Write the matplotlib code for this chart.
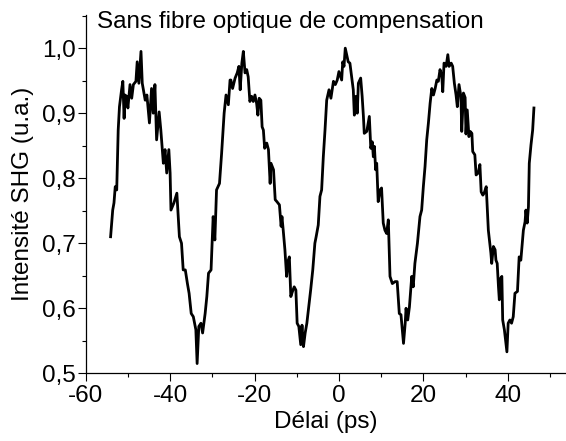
import matplotlib
matplotlib.use("Agg")
import matplotlib.pyplot as plt
from matplotlib.ticker import MultipleLocator, FuncFormatter

plt.rcParams['font.family'] = ['Liberation Sans', 'DejaVu Sans']

delay_ps = [
    -54.1, -53.6, -53.3, -53.0, -52.65, -52.3, -52.0, -51.5, -51.2, -50.9, -50.7, -50.3, -50.0,
    -49.5, -49.1, -48.7, -48.1, -47.8, -47.4, -47.1, -46.9, -46.6, -45.9, -45.5, -44.9, -44.4,
    -44.0, -43.6, -43.2, -42.6, -42.2, -41.6, -41.2, -40.8, -40.3, -40.0, -39.8, -39.1, -38.4,
    -37.8, -37.3, -36.9, -36.4, -35.9, -35.5, -35.0, -34.5, -33.9, -33.6, -33.2, -32.7, -32.3,
    -31.7, -31.3, -30.9, -30.3, -29.8, -29.4, -29.0, -28.3, -27.8, -27.2, -26.75, -26.2, -25.8,
    -25.6, -25.2, -24.6, -24.1, -23.7, -23.4, -23.0, -22.65, -22.25, -21.85, -21.5, -21.1, -20.7,
    -20.3, -19.9, -19.5, -19.2, -18.9, -18.5, -18.2, -17.9, -17.6, -17.1, -16.7, -16.3, -16.1,
    -15.5, -15.1, -14.7, -14.1, -13.7, -13.5, -13.2, -12.8, -12.4, -12.0, -11.75, -11.4, -11.0,
    -10.6, -10.2, -9.9, -9.5, -9.05, -8.75, -8.4, -8.0, -7.6, -7.25, -6.7, -6.2, -5.7, -5.4,
    -4.9, -4.5, -4.1, -3.7, -3.3, -2.9, -2.35, -1.9, -1.3, -0.85, -0.4, 0.0, 0.4, 0.65, 0.9,
    1.2, 1.5, 1.9, 2.2, 2.6, 3.0, 3.4, 3.65, 4.05, 4.35, 4.6, 5.15, 5.5, 5.8, 6.0, 6.6, 7.2,
    7.55, 7.9, 8.15, 8.4, 8.7, 8.95, 9.3, 9.75, 10.1, 10.5, 10.9, 11.3, 11.7, 12.1, 12.65, 13.3,
    13.8, 14.3, 14.7, 15.3, 15.7, 15.9, 16.3, 16.7, 17.25, 17.6, 18.0, 18.6, 19.2, 19.6, 20.0,
    20.4, 20.8, 21.2, 21.6, 22.0, 22.4, 22.8, 23.2, 23.55, 23.95, 24.35, 24.6, 24.9, 25.4, 25.8,
    26.1, 26.6, 26.95, 27.35, 27.75, 28.05, 28.45, 28.9, 29.1, 29.5, 29.9, 30.1, 30.4, 30.8,
    31.1, 31.5, 31.7, 32.2, 32.5, 33.0, 33.4, 33.7, 34.1, 34.4, 34.9, 35.4, 36.0, 36.2, 36.6,
    37.0, 37.2, 37.5, 37.8, 38.0, 38.3, 38.6, 38.8, 39.2, 39.8, 40.1, 40.5, 40.9, 41.3, 41.7,
    42.3, 42.7, 43.1, 43.3, 43.7, 44.1, 44.3, 44.6, 44.9, 45.1, 45.5, 45.9, 46.2,
]

shg_intensity = [
    0.710, 0.751, 0.762, 0.787, 0.782, 0.874, 0.910, 0.936, 0.949, 0.892, 0.928, 0.926, 0.908,
    0.944, 0.923, 0.944, 0.949, 0.979, 0.946, 0.977, 0.995, 0.946, 0.920, 0.928, 0.885, 0.938,
    0.900, 0.944, 0.859, 0.902, 0.874, 0.823, 0.844, 0.808, 0.844, 0.808, 0.751, 0.762, 0.777,
    0.710, 0.700, 0.659, 0.659, 0.638, 0.623, 0.592, 0.587, 0.567, 0.515, 0.572, 0.577, 0.562,
    0.592, 0.618, 0.654, 0.659, 0.741, 0.705, 0.782, 0.792, 0.838, 0.900, 0.928, 0.913, 0.951,
    0.951, 0.938, 0.954, 0.962, 0.972, 0.936, 0.977, 0.995, 0.962, 0.967, 0.956, 0.918, 0.926,
    0.918, 0.928, 0.915, 0.897, 0.923, 0.920, 0.879, 0.874, 0.846, 0.854, 0.844, 0.792, 0.823,
    0.813, 0.767, 0.764, 0.759, 0.726, 0.741, 0.720, 0.690, 0.649, 0.674, 0.679, 0.618, 0.626,
    0.633, 0.628, 0.577, 0.572, 0.544, 0.574, 0.541, 0.562, 0.577, 0.597, 0.628, 0.659, 0.700, 0.710,
    0.728, 0.772, 0.782, 0.833, 0.874, 0.920, 0.936, 0.923, 0.949, 0.944, 0.951, 0.964, 0.956, 0.951, 0.979,
    0.972, 1.000, 0.988, 0.979, 0.977, 0.956, 0.936, 0.897, 0.926, 0.900, 0.946, 0.954, 0.926, 0.895, 0.869, 0.872, 0.895,
    0.846, 0.856, 0.833, 0.849, 0.813, 0.823, 0.764, 0.782, 0.785, 0.731, 0.720, 0.715, 0.736, 0.649, 0.638, 0.641,
    0.641, 0.592, 0.590, 0.546, 0.577, 0.600, 0.582, 0.602, 0.649, 0.633, 0.669, 0.700, 0.741, 0.751, 0.787,
    0.818, 0.859, 0.885, 0.915, 0.938, 0.928, 0.938, 0.951, 0.949, 0.967, 0.959, 0.933, 0.977, 0.972, 0.990,
    0.972, 0.977, 0.972, 0.946, 0.928, 0.910, 0.944, 0.926, 0.872, 0.931, 0.924, 0.868, 0.905, 0.864,
    0.872, 0.869, 0.841, 0.836, 0.805, 0.808, 0.821, 0.779, 0.774, 0.777, 0.787, 0.720, 0.685, 0.669, 0.695,
    0.690, 0.674, 0.669, 0.633, 0.613, 0.646, 0.649, 0.582, 0.567, 0.533, 0.577, 0.582, 0.577, 0.587, 0.623,
    0.626, 0.679, 0.674, 0.690, 0.720, 0.733, 0.751, 0.731, 0.756, 0.823, 0.851, 0.874, 0.908,
]

title_text = "Sans fibre optique de compensation"
x_label = "Délai (ps)"
y_label = "Intensité SHG (u.a.)"

W, H = 566, 441
fig = plt.figure(figsize=(W / 100, H / 100), dpi=100)
left_px, right_px, top_px, bottom_px = 85.7, 566, 15, 373.3
ax = fig.add_axes([left_px / W, 1 - bottom_px / H, (right_px - left_px) / W, (bottom_px - top_px) / H])

ax.plot(delay_ps, shg_intensity, color='black', lw=2.0)

ax.set_xlim(-60, 53.8)
ax.set_ylim(0.5, 1.051)
ax.spines['top'].set_visible(False)
ax.spines['right'].set_visible(False)
for s in ('left', 'bottom'):
    ax.spines[s].set_linewidth(0.9)

ax.xaxis.set_major_locator(MultipleLocator(20))
ax.xaxis.set_minor_locator(MultipleLocator(10))
ax.yaxis.set_major_locator(MultipleLocator(0.1))
ax.yaxis.set_minor_locator(MultipleLocator(0.05))
ax.yaxis.set_major_formatter(FuncFormatter(lambda v, p: f"{v:.1f}".replace('.', ',')))
ax.xaxis.set_major_formatter(FuncFormatter(lambda v, p: f"{v:.0f}"))

ax.tick_params(which='major', direction='out', length=5.5, width=0.8, labelsize=17.5)
ax.tick_params(axis='y', which='major', pad=1.5)
ax.tick_params(axis='x', which='major', pad=3)
ax.tick_params(which='minor', direction='out', length=3, width=0.8)

ax.set_xlabel(x_label, fontsize=17.5, labelpad=3)
ax.set_ylabel(y_label, fontsize=17.5, labelpad=6)

fig.text(97 / W, 1 - 28 / H, title_text, fontsize=17.5, ha='left', va='baseline')

fig.savefig("out.png", dpi=100)
